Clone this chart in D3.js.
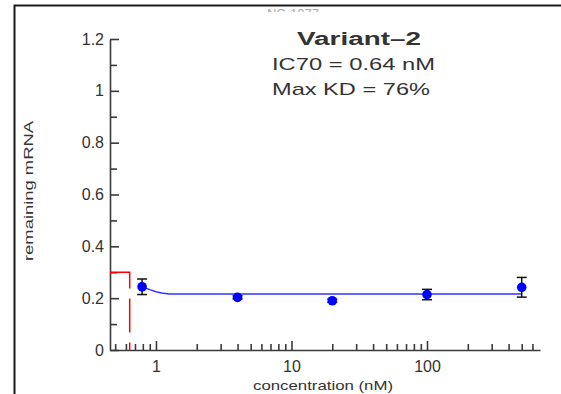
<!DOCTYPE html>
<html>
<head>
<meta charset="utf-8">
<script src="https://cdn.jsdelivr.net/npm/d3@7"></script>
<style>
  body { margin: 0; background: #fff; }
  svg { display: block; font-family: "Liberation Sans", Arial, sans-serif; }
</style>
</head>
<body>
<svg id="chart" width="561" height="394"></svg>
<script>
// dose response, one variant

//// DATA ///////////////////////////////////////////////////////////////////////

var conc = [0.79, 4, 20, 100, 500];            // nM
var remaining = [0.244, 0.203, 0.19, 0.214, 0.242];
var sem = [0.03, 0.006, 0.006, 0.02, 0.038];

// fitted curve
var fitConc = [0.79, 0.9, 1.0, 1.1, 1.25, 500];
var fitRemaining = [0.244, 0.233, 0.225, 0.22, 0.216, 0.216];

var ic70 = 0.64;
var ic70Level = 0.3;

var yMajor = [0, 0.2, 0.4, 0.6, 0.8, 1, 1.2];
var yMinor = [0.1, 0.3, 0.5, 0.7, 0.9, 1.1];
var xMajor = [1, 10, 100];
var xMinor = [0.5, 0.6, 0.7, 0.8, 0.9, 2, 3, 4, 5, 6, 7, 8, 9,
              20, 30, 40, 50, 60, 70, 80, 90, 200, 300, 400, 500, 600];

var title = "Variant\u20132";
var lines = ["IC70 = 0.64 nM", "Max KD = 76%"];


//// SETTINGS ///////////////////////////////////////////////////////////////////

var plotLeft = 110, plotRight = 540, plotTop = 39, plotBottom = 350;
var ink = "#333";

var svg = d3.select("#chart");

var x = d3.scaleLog().domain([0.458, 682]).range([plotLeft, plotRight]);
var y = d3.scaleLinear().domain([0, 1.2]).range([plotBottom, plotTop]);


//// FRAME //////////////////////////////////////////////////////////////////////

svg.append("path")
	.attr("d", "M14.5,394V5.5H561")
	.attr("fill", "none")
	.attr("stroke", "#1a1a1a")
	.attr("stroke-width", 2);

// cut off text at the top of the page
svg.append("clipPath").attr("id", "cut")
	.append("rect").attr("x", 250).attr("y", 8.5).attr("width", 100).attr("height", 3.5);
svg.append("text")
	.attr("clip-path", "url(#cut)")
	.attr("x", 293).attr("y", 18)
	.attr("text-anchor", "middle")
	.attr("fill", "#aaa")
	.style("font-size", "13px")
	.text("NC-1077");


//// AXES ///////////////////////////////////////////////////////////////////////

svg.append("g")
	.attr("transform", "translate(" + plotLeft + ",0)")
	.call(d3.axisLeft(y).tickValues(yMajor).tickSizeInner(-9).tickSizeOuter(0)
		.tickPadding(6).tickFormat(d3.format("~g")));

svg.append("g")
	.attr("transform", "translate(" + plotLeft + ",0)")
	.call(d3.axisLeft(y).tickValues(yMinor).tickSizeInner(-7).tickSizeOuter(0).tickFormat(""))
	.select(".domain").remove();

svg.append("g")
	.attr("transform", "translate(0," + plotBottom + ")")
	.call(d3.axisBottom(x).tickValues(xMajor).tickSizeInner(-9).tickSizeOuter(0)
		.tickPadding(11).tickFormat(d3.format("~g")));

svg.append("g")
	.attr("transform", "translate(0," + plotBottom + ")")
	.call(d3.axisBottom(x).tickValues(xMinor).tickSizeInner(-6).tickSizeOuter(0).tickFormat(""))
	.select(".domain").remove();

svg.selectAll(".domain, .tick line")
	.attr("stroke", "#3a3a3a")
	.attr("stroke-width", 1.6);

svg.selectAll(".tick text")
	.attr("fill", ink)
	.style("font-size", "16px")
	.style("font-family", "\"Liberation Sans\", Arial, sans-serif");

svg.append("text")
	.attr("transform", "translate(33,191) rotate(-90)")
	.attr("text-anchor", "middle")
	.attr("fill", ink)
	.attr("textLength", 140)
	.attr("lengthAdjust", "spacingAndGlyphs")
	.style("font-size", "13.5px")
	.text("remaining  mRNA");

svg.append("text")
	.attr("x", 323).attr("y", 390)
	.attr("text-anchor", "middle")
	.attr("fill", ink)
	.attr("textLength", 140)
	.attr("lengthAdjust", "spacingAndGlyphs")
	.style("font-size", "13.5px")
	.text("concentration  (nM)");


//// IC70 MARKER ////////////////////////////////////////////////////////////////

svg.append("path")
	.attr("d", d3.line()([[x.range()[0], y(ic70Level)], [x(ic70), y(ic70Level)], [x(ic70), y(0)]]))
	.attr("fill", "none")
	.attr("stroke", "#ff0000")
	.attr("stroke-width", 1.5)
	.attr("stroke-dasharray", "36,10,34,10");


//// FIT + POINTS ///////////////////////////////////////////////////////////////

var fit = fitConc.map(function(c, i) { return [c, fitRemaining[i]]; });

svg.append("path")
	.datum(fit)
	.attr("d", d3.line().x(function(d) { return x(d[0]); }).y(function(d) { return y(d[1]); }))
	.attr("fill", "none")
	.attr("stroke", "#3333ff")
	.attr("stroke-width", 1.5);

var pts = conc.map(function(c, i) { return { c: c, v: remaining[i], e: sem[i] }; });

var bars = svg.append("g").selectAll("g").data(pts).join("g")
	.attr("stroke", "#111")
	.attr("stroke-width", 1.5);

bars.append("line")
	.attr("x1", function(d) { return x(d.c); }).attr("x2", function(d) { return x(d.c); })
	.attr("y1", function(d) { return y(d.v - d.e); }).attr("y2", function(d) { return y(d.v + d.e); });
bars.append("line")
	.attr("x1", function(d) { return x(d.c) - 5; }).attr("x2", function(d) { return x(d.c) + 5; })
	.attr("y1", function(d) { return y(d.v + d.e); }).attr("y2", function(d) { return y(d.v + d.e); });
bars.append("line")
	.attr("x1", function(d) { return x(d.c) - 5; }).attr("x2", function(d) { return x(d.c) + 5; })
	.attr("y1", function(d) { return y(d.v - d.e); }).attr("y2", function(d) { return y(d.v - d.e); });

svg.append("g").selectAll("circle").data(pts).join("circle")
	.attr("cx", function(d) { return x(d.c); })
	.attr("cy", function(d) { return y(d.v); })
	.attr("r", 4.8)
	.attr("fill", "#0000ff");


//// ANNOTATION /////////////////////////////////////////////////////////////////

svg.append("text")
	.attr("x", 359).attr("y", 45)
	.attr("text-anchor", "middle")
	.attr("fill", ink)
	.attr("textLength", 124)
	.attr("lengthAdjust", "spacingAndGlyphs")
	.style("font-size", "18px")
	.style("font-weight", "bold")
	.text(title);

svg.selectAll(".note").data(lines).join("text")
	.attr("class", "note")
	.attr("x", 272)
	.attr("y", function(d, i) { return 69.5 + i * 25; })
	.attr("fill", ink)
	.attr("textLength", function(d, i) { return i === 0 ? 163 : 158; })
	.attr("lengthAdjust", "spacingAndGlyphs")
	.style("font-size", "17px")
	.text(function(d) { return d; });
</script>
</body>
</html>
